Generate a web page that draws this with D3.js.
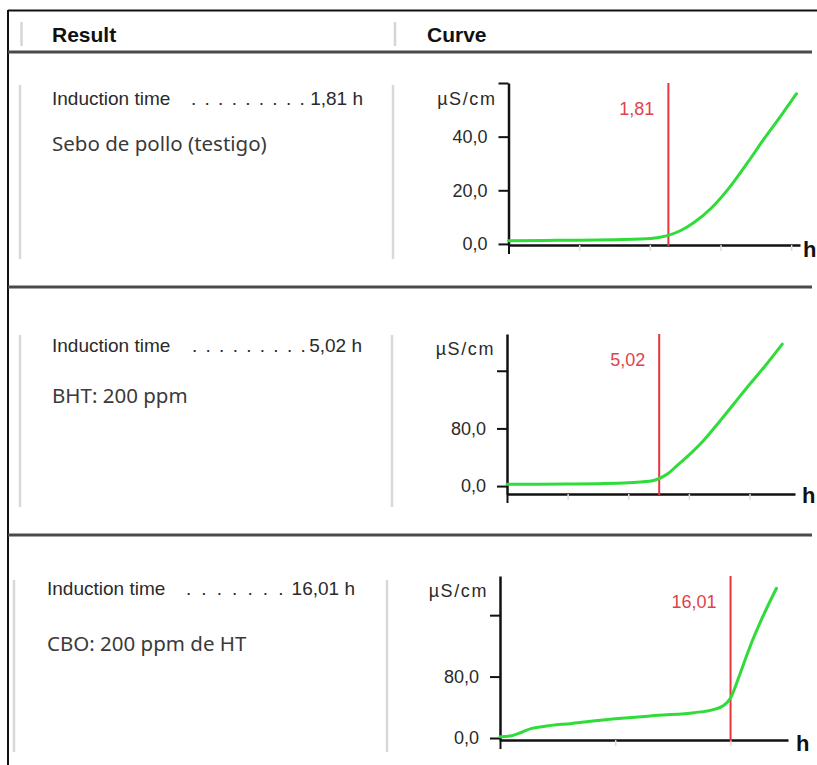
<!DOCTYPE html>
<html>
<head>
<meta charset="utf-8">
<script src="https://cdn.jsdelivr.net/npm/d3@7"></script>
<style>
  body { margin: 0; background: #fff; }
  svg { display: block; font-family: "Liberation Sans", Arial, sans-serif; }
</style>
</head>
<body>
<div id="chart"></div>
<script>
// values
const headers = ["Result", "Curve"];
const sampleNames = ["Sebo de pollo (testigo)", "BHT: 200 ppm", "CBO: 200 ppm de HT"];
const inductionTimes = [1.81, 5.02, 16.01];
const inductionLabels = ["1,81", "5,02", "16,01"];
const leaderDots = [". . . . . . . . .", ". . . . . . . . .", ". . . . . . ."];

// panel 1 : chicken tallow (control)
const time1 = [0, 0.4, 0.8, 1.2, 1.5, 1.7, 1.81, 1.95, 2.1, 2.3, 2.5, 2.7, 2.9, 3.1, 3.26];
const cond1 = [1.2, 1.3, 1.4, 1.6, 1.8, 2.4, 3.2, 5.0, 8.0, 13.5, 21.0, 30.0, 39.5, 48.5, 56];
// panel 2 : BHT
const time2 = [0, 1, 2, 3, 4, 4.5, 4.8, 5.02, 5.3, 5.6, 6.0, 6.5, 7.0, 7.5, 8.0, 8.5, 9.08];
const cond2 = [2.5, 2.5, 2.8, 3.3, 4.5, 6, 7.5, 10.5, 17, 28, 43, 64, 89, 115, 141, 166, 197];
// panel 3 : CBO
const time3 = [0, 0.8, 1.5, 2.2, 3, 5, 8, 11, 13.5, 14.8, 15.5, 16.01, 16.6, 17.3, 18.2, 19.2];
const cond3 = [1.5, 3, 7.5, 12.5, 15, 19, 25, 29.5, 33, 37, 42, 52, 80, 116, 156, 195];

const xTicks = [[0, 0.8, 1.6, 2.4, 3.2], [0, 2, 4, 6, 8], [0, 8, 16]];
const yTicks = [[0, 20, 40, 60], [0, 80, 160], [0, 80, 160]];
const yTickLabels = [["0,0", "20,0", "40,0", ""], ["0,0", "80,0", ""], ["0,0", "80,0", ""]];
const xMax = [3.3, 9.5, 20];
const yMin = [-0.4, -11, -2.6];
const yMax = [60, 211, 211];

const times = [time1, time2, time3];
const conds = [cond1, cond2, cond3];

// page layout (pixels)
const W = 817, H = 765;
const layout = [
  { line: 52, info: 105, desc: 151, infoX: 52, valueX: 363, dotsX: 191, dotsLs: 1.5, grayX: [20, 393], grayY: [85, 259],
    left: 508.5, right: 800, top: 83, base: 245, unitBase: 105, hX: 803, hBase: 257 },
  { line: 287, info: 352, desc: 403, infoX: 52, valueX: 362, dotsX: 192, dotsLs: 1.5, grayX: [20, 392], grayY: [335, 507],
    left: 507, right: 795, top: 334, base: 494, unitBase: 355, hX: 802, hBase: 503 },
  { line: 535, info: 595, desc: 651, infoX: 47, valueX: 355, dotsX: 186, dotsLs: 2.4, grayX: [14, 387], grayY: [580, 752],
    left: 500, right: 788, top: 576, base: 740, unitBase: 597, hX: 796, hBase: 751 }
];

const svg = d3.select("#chart").append("svg")
  .attr("width", W)
  .attr("height", H);

// outer frame
svg.append("line").attr("x1", 8).attr("x2", W).attr("y1", 10.5).attr("y2", 10.5)
  .attr("stroke", "#111").attr("stroke-width", 2);
svg.append("line").attr("x1", 8).attr("x2", 8).attr("y1", 10).attr("y2", H)
  .attr("stroke", "#111").attr("stroke-width", 2);

// header
svg.selectAll(".hdr-sep").data([21.5, 395]).enter().append("line")
  .attr("x1", d => d).attr("x2", d => d).attr("y1", 22).attr("y2", 46)
  .attr("stroke", "#d6d6d6").attr("stroke-width", 2.5);
svg.selectAll(".hdr").data(headers).enter().append("text")
  .attr("x", (d, i) => i === 0 ? 52 : 427)
  .attr("y", 42)
  .attr("font-size", 21).attr("font-weight", "bold").attr("fill", "#111")
  .text(d => d);

layout.forEach((L, i) => {
  // panel separator
  svg.append("line").attr("x1", 8).attr("x2", 812).attr("y1", L.line).attr("y2", L.line)
    .attr("stroke", "#4a4a4a").attr("stroke-width", 3);

  // light gray column rules
  L.grayX.forEach(gx => {
    svg.append("line").attr("x1", gx).attr("x2", gx).attr("y1", L.grayY[0]).attr("y2", L.grayY[1])
      .attr("stroke", "#d8d8d8").attr("stroke-width", 2.5);
  });

  // result text
  svg.append("text").attr("x", L.infoX).attr("y", L.info)
    .attr("font-size", 19).attr("fill", "#2a2a2a")
    .text("Induction time");
  svg.append("text").attr("x", L.dotsX).attr("y", L.info)
    .attr("font-size", 19).attr("fill", "#2a2a2a").attr("letter-spacing", L.dotsLs)
    .text(leaderDots[i]);
  svg.append("text").attr("x", L.valueX).attr("y", L.info)
    .attr("font-size", 19).attr("fill", "#2a2a2a").attr("text-anchor", "end")
    .text(inductionLabels[i] + " h");
  svg.append("text").attr("x", L.infoX).attr("y", L.desc)
    .attr("font-family", "'Noto Sans', sans-serif")
    .attr("font-size", 20.5).attr("fill", "#3a3a3a")
    .text(sampleNames[i]);

  // curve
  const x = d3.scaleLinear().domain([0, xMax[i]]).range([L.left, L.right]);
  const y = d3.scaleLinear().domain([yMin[i], yMax[i]]).range([L.base, L.top]);
  const g = svg.append("g");

  // x axis
  const gx = g.append("g")
    .attr("transform", `translate(0,${L.base})`)
    .call(d3.axisBottom(x).tickValues(xTicks[i]).tickSize(6).tickSizeOuter(0).tickFormat(""));
  gx.select(".domain").attr("stroke", "#111").attr("stroke-width", 2.5);
  gx.selectAll(".tick line").attr("stroke", "#dcdcdc").attr("stroke-width", 1.5);
  gx.selectAll(".tick line").filter(d => d === 0)
    .attr("stroke", "#111").attr("stroke-width", 2).attr("y2", 9);

  // y axis
  const gy = g.append("g")
    .attr("transform", `translate(${L.left},0)`)
    .call(d3.axisLeft(y).tickValues(yTicks[i]).tickSize(10).tickPadding(11).tickSizeOuter(0)
      .tickFormat((d, k) => yTickLabels[i][k]));
  gy.select(".domain").attr("stroke", "#111").attr("stroke-width", 2.5);
  gy.selectAll(".tick line").attr("stroke", "#111").attr("stroke-width", 2);
  gy.selectAll(".tick text")
    .attr("font-size", 18).attr("fill", "#2a2a2a")
    .attr("font-family", "'Liberation Sans', Arial, sans-serif");

  g.append("text").attr("x", L.left - 12).attr("y", L.unitBase)
    .attr("text-anchor", "end").attr("font-size", 18).attr("letter-spacing", 1.6)
    .attr("fill", "#2a2a2a").text("\u00b5S/cm");
  g.append("text").attr("x", L.hX).attr("y", L.hBase)
    .attr("font-size", 22).attr("font-weight", "bold").attr("fill", "#111").text("h");

  // induction time marker
  const xi = x(inductionTimes[i]);
  g.append("line").attr("x1", xi).attr("x2", xi).attr("y1", L.top).attr("y2", L.base + 1)
    .attr("stroke", "#e8343e").attr("stroke-width", 2);
  g.append("text").attr("x", xi - 14).attr("y", L.top + 32)
    .attr("text-anchor", "end").attr("font-size", 18).attr("fill", "#e0434b")
    .text(inductionLabels[i]);

  const pts = times[i].map((t, k) => [t, conds[i][k]]);
  g.append("path").datum(pts)
    .attr("fill", "none").attr("stroke", "#2fdc3a").attr("stroke-width", 3)
    .attr("stroke-linecap", "round")
    .attr("d", d3.line().x(d => x(d[0])).y(d => y(d[1])).curve(d3.curveMonotoneX));
});
</script>
</body>
</html>
